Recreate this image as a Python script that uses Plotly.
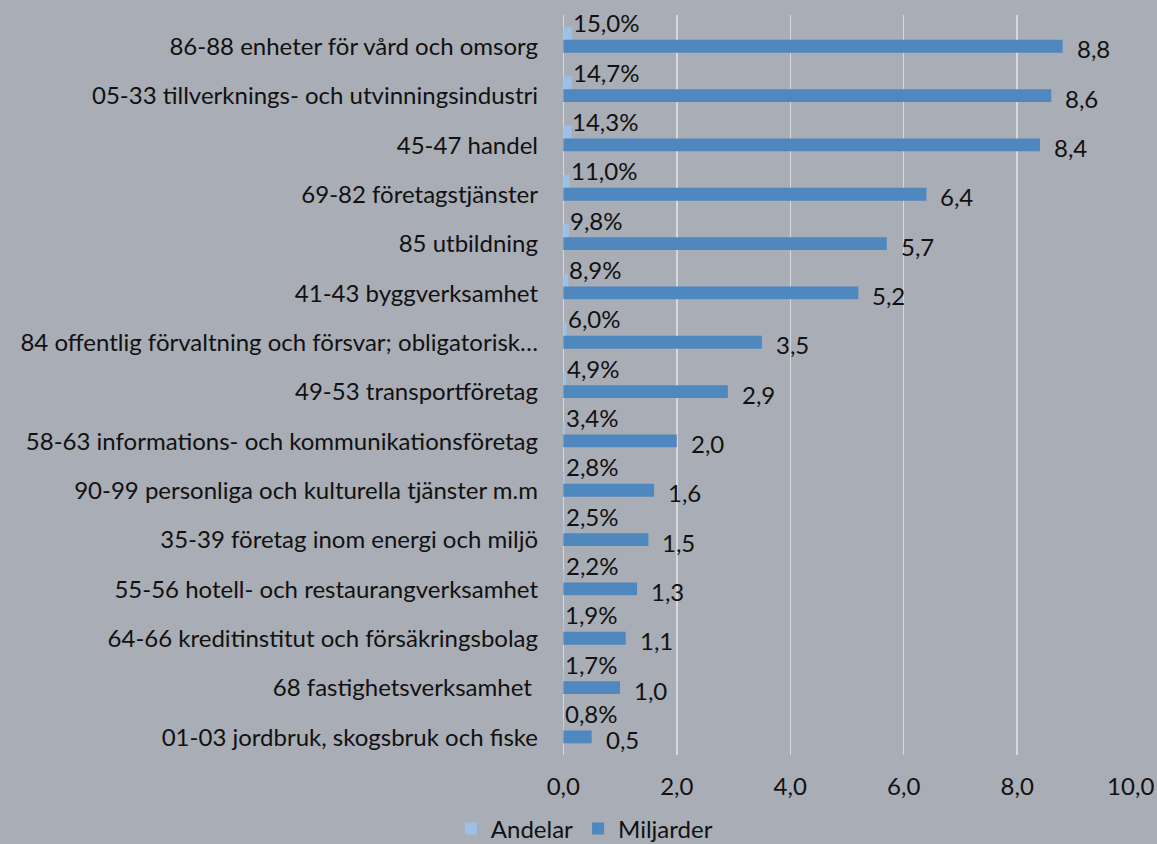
import plotly.graph_objects as go

categories = [
    "86-88 enheter för vård och omsorg",
    "05-33 tillverknings- och utvinningsindustri",
    "45-47 handel",
    "69-82 företagstjänster",
    "85 utbildning",
    "41-43 byggverksamhet",
    "84 offentlig förvaltning och försvar; obligatorisk…",
    "49-53 transportföretag",
    "58-63 informations- och kommunikationsföretag",
    "90-99 personliga och kulturella tjänster m.m",
    "35-39 företag inom energi och miljö",
    "55-56 hotell- och restaurangverksamhet",
    "64-66 kreditinstitut och försäkringsbolag",
    "68 fastighetsverksamhet ",
    "01-03 jordbruk, skogsbruk och fiske",
]
andelar = [0.150, 0.147, 0.143, 0.110, 0.098, 0.089, 0.060, 0.049,
           0.034, 0.028, 0.025, 0.022, 0.019, 0.017, 0.008]
miljarder = [8.8, 8.6, 8.4, 6.4, 5.7, 5.2, 3.5, 2.9, 2.0, 1.6, 1.5, 1.3, 1.1, 1.0, 0.5]
x_ticks = [0, 2, 4, 6, 8, 10]

FONT = "Lato"
FS = 24
TXT = "#111111"
BG = "#a9adb5"
C_AND = "#9dc1e6"
C_MIL = "#4f87bf"

fig = go.Figure()
fig.add_trace(go.Bar(
    name="Andelar", y=categories, x=andelar, orientation="h",
    marker=dict(color=C_AND, line=dict(width=0)),
    offset=-0.40, width=0.26, hoverinfo="skip",
))
fig.add_trace(go.Bar(
    name="Miljarder", y=categories, x=miljarder, orientation="h",
    marker=dict(color=C_MIL, line=dict(width=0)),
    offset=-0.14, width=0.26, hoverinfo="skip",
))

annotations = []
for cat, a, m in zip(categories, andelar, miljarder):
    annotations.append(dict(
        x=a, y=cat, xref="x", yref="y", xanchor="left", yanchor="middle",
        text=f"{a*100:.1f}%".replace(".", ","), showarrow=False,
        xshift=-1, yshift=24, font=dict(family=FONT, size=FS, color=TXT),
    ))
    annotations.append(dict(
        x=m, y=cat, xref="x", yref="y", xanchor="left", yanchor="middle",
        text=f"{m:.1f}".replace(".", ","), showarrow=False,
        xshift=12, yshift=-2, font=dict(family=FONT, size=FS, color=TXT),
    ))

fig.update_layout(
    width=1157, height=844,
    margin=dict(l=563, r=26, t=15, b=89, autoexpand=False),
    paper_bgcolor=BG, plot_bgcolor=BG,
    barmode="overlay",
    separators=", ",
    font=dict(family=FONT, size=FS, color=TXT),
    showlegend=True,
    legend=dict(
        orientation="h", xref="container", yref="paper",
        x=0.505, xanchor="center", y=-0.100, yanchor="middle",
        font=dict(family=FONT, size=FS, color=TXT),
        bgcolor="rgba(0,0,0,0)", traceorder="normal", itemwidth=30,
    ),
    annotations=annotations,
    xaxis=dict(
        range=[-0.005, 10.005], tickvals=x_ticks, tickformat=".1f",
        showgrid=True, gridcolor="#d8d8d8", gridwidth=1.5,
        zeroline=True, zerolinecolor="#d8d8d8", zerolinewidth=1.5,
        showline=False, ticks="", ticklabelstandoff=15,
        tickfont=dict(family=FONT, size=FS, color=TXT), fixedrange=True,
    ),
    yaxis=dict(
        type="category", categoryorder="array", categoryarray=categories,
        range=[14.357, -0.643], showgrid=False, zeroline=False,
        showline=False, ticks="", ticklabelstandoff=24,
        tickfont=dict(family=FONT, size=FS, color=TXT), fixedrange=True,
    ),
)

fig.write_html(
    "out.html",
    config={"displayModeBar": False, "staticPlot": True},
    post_script="document.body.style.margin='0';document.body.style.background='#a9adb5';",
)
